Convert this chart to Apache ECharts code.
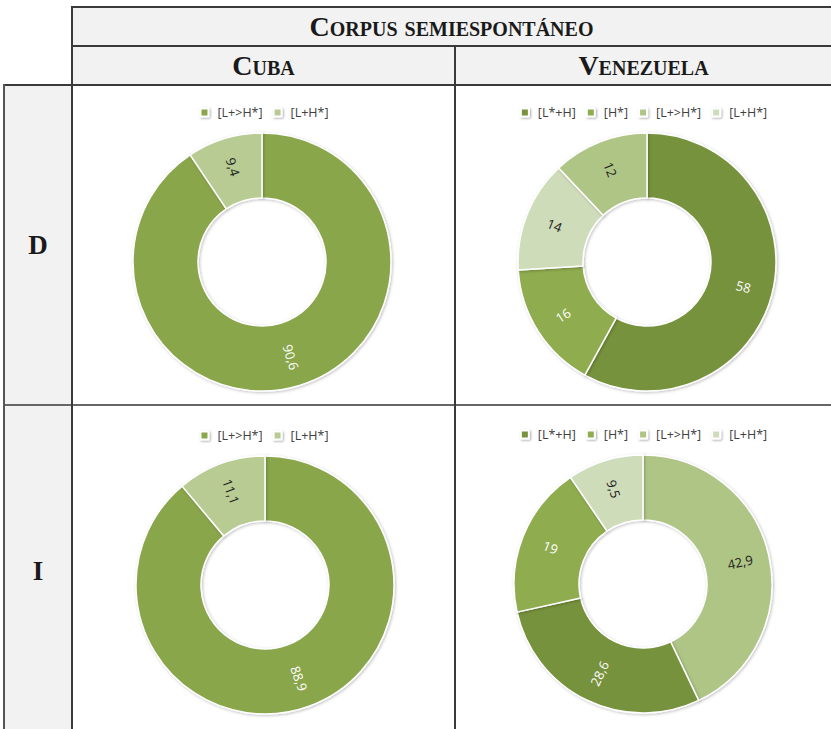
<!DOCTYPE html>
<html><head><meta charset="utf-8">
<script src="https://cdn.jsdelivr.net/npm/echarts@6/dist/echarts.min.js"></script>
<style>
html,body{margin:0;padding:0;}
body{width:831px;height:729px;overflow:hidden;background:#fff;position:relative;font-family:'Liberation Serif','DejaVu Serif',serif;}
.bg{position:absolute;background:#f2f2f2;}
.ln{position:absolute;background:#3a3a3a;}
.hd{position:absolute;font-weight:bold;font-variant:small-caps;font-size:28px;color:#1a1a1a;display:flex;align-items:center;justify-content:center;line-height:1;}
.rw{font-size:27px;}
.ch{position:absolute;}
</style></head><body>
<div class="bg" style="left:72px;top:7px;width:770px;height:78px;"></div>
<div class="bg" style="left:4px;top:85px;width:68px;height:660px;"></div>

<div class="hd" id="title" style="left:72px;top:8px;width:759px;height:38px;"></div>
<div class="hd" id="col0" style="left:72px;top:47px;width:383px;height:38px;"></div>
<div class="hd" id="col1" style="left:456px;top:47px;width:375px;height:38px;"></div>
<div class="hd rw" id="row0" style="left:4px;top:86px;width:68px;height:319px;"></div>
<div class="hd rw" id="row1" style="left:4px;top:406px;width:68px;height:331px;"></div>

<div class="ch" id="cuD" style="left:73px;top:86px;width:382px;height:319px;"></div>
<div class="ch" id="veD" style="left:456px;top:86px;width:375px;height:319px;"></div>
<div class="ch" id="cuI" style="left:73px;top:406px;width:382px;height:323px;"></div>
<div class="ch" id="veI" style="left:456px;top:406px;width:375px;height:323px;"></div>

<div class="ln" style="left:71px;top:6px;width:770px;height:2px;"></div>
<div class="ln" style="left:71px;top:45px;width:770px;height:2px;"></div>
<div class="ln" style="left:3px;top:84px;width:840px;height:2px;"></div>
<div class="ln" style="left:3px;top:404px;width:840px;height:2px;background:#666;"></div>
<div class="ln" style="left:71px;top:6px;width:2px;height:740px;"></div>
<div class="ln" style="left:3px;top:84px;width:2px;height:660px;background:#555;"></div>
<div class="ln" style="left:454px;top:45px;width:2px;height:700px;"></div>

<script>
// ---- data ----
const titleText = 'Corpus semiespontáneo';
const columnLabels = ['Cuba', 'Venezuela'];
const rowLabels = ['D', 'I'];

const cubaLegend = ['[L+>H*]', '[L+H*]'];
const cubaDCategories = ['[L+>H*]', '[L+H*]'];
const cubaDValues = [90.6, 9.4];
const cubaICategories = ['[L+>H*]', '[L+H*]'];
const cubaIValues = [88.9, 11.1];

const venLegend = ['[L*+H]', '[H*]', '[L+>H*]', '[L+H*]'];
const venDCategories = ['[L*+H]', '[H*]', '[L+H*]', '[L+>H*]'];
const venDValues = [58, 16, 14, 12];
const venICategories = ['[L+>H*]', '[L*+H]', '[H*]', '[L+H*]'];
const venIValues = [42.9, 28.6, 19, 9.5];

// ---- styles ----
const cubaColors = {'[L+>H*]': '#8aa64c', '[L+H*]': '#b7cb93'};
const cubaText = {'[L+>H*]': '#ffffff', '[L+H*]': '#1a1a1a'};
const venColors = {'[L*+H]': '#77923c', '[H*]': '#8fac50', '[L+>H*]': '#afc586', '[L+H*]': '#cfdcb9'};
const venText = {'[L*+H]': '#ffffff', '[H*]': '#ffffff', '[L+>H*]': '#1a1a1a', '[L+H*]': '#1a1a1a'};

document.getElementById('title').textContent = titleText;
document.getElementById('col0').textContent = columnLabels[0];
document.getElementById('col1').textContent = columnLabels[1];
document.getElementById('row0').textContent = rowLabels[0];
document.getElementById('row1').textContent = rowLabels[1];

function makeChart(id, legendData, cats, vals, colors, textColors, center, legendTop) {
  const chart = echarts.init(document.getElementById(id), null, {renderer: 'svg'});
  chart.setOption({
    animation: false,
    legend: {
      data: legendData,
      top: legendTop,
      left: 'center',
      icon: 'rect',
      itemWidth: 8,
      itemHeight: 8,
      itemGap: 10,
      selectedMode: false,
      textStyle: {fontFamily: 'Open Sans', fontSize: 12.5, color: '#404040', padding: [0, 0, 0, 4]},
      itemStyle: {shadowBlur: 2, shadowColor: 'rgba(0,0,0,0.35)', shadowOffsetX: 1, shadowOffsetY: 1}
    },
    series: [{
      type: 'pie',
      radius: [64, 129],
      center: center,
      startAngle: 90,
      clockwise: true,
      avoidLabelOverlap: false,
      silent: true,
      label: {
        show: true,
        position: 'inside',
        rotate: 'radial',
        fontFamily: 'Open Sans',
        fontSize: 13,
        formatter: p => String(p.value).replace('.', ',')
      },
      labelLine: {show: false},
      itemStyle: {borderColor: '#ffffff', borderWidth: 1.5, shadowBlur: 3, shadowColor: 'rgba(0,0,0,0.25)', shadowOffsetX: 1, shadowOffsetY: 1},
      emphasis: {disabled: true},
      data: cats.map((c, i) => ({
        name: c,
        value: vals[i],
        itemStyle: {color: colors[c]},
        label: {color: textColors[c]}
      }))
    }]
  });
}

makeChart('cuD', cubaLegend, cubaDCategories, cubaDValues, cubaColors, cubaText, [189, 176], 15);
makeChart('veD', venLegend, venDCategories, venDValues, venColors, venText, [191, 176], 15);
makeChart('cuI', cubaLegend, cubaICategories, cubaIValues, cubaColors, cubaText, [192, 179], 18);
makeChart('veI', venLegend, venICategories, venIValues, venColors, venText, [187, 178], 17);
</script>
</body></html>
